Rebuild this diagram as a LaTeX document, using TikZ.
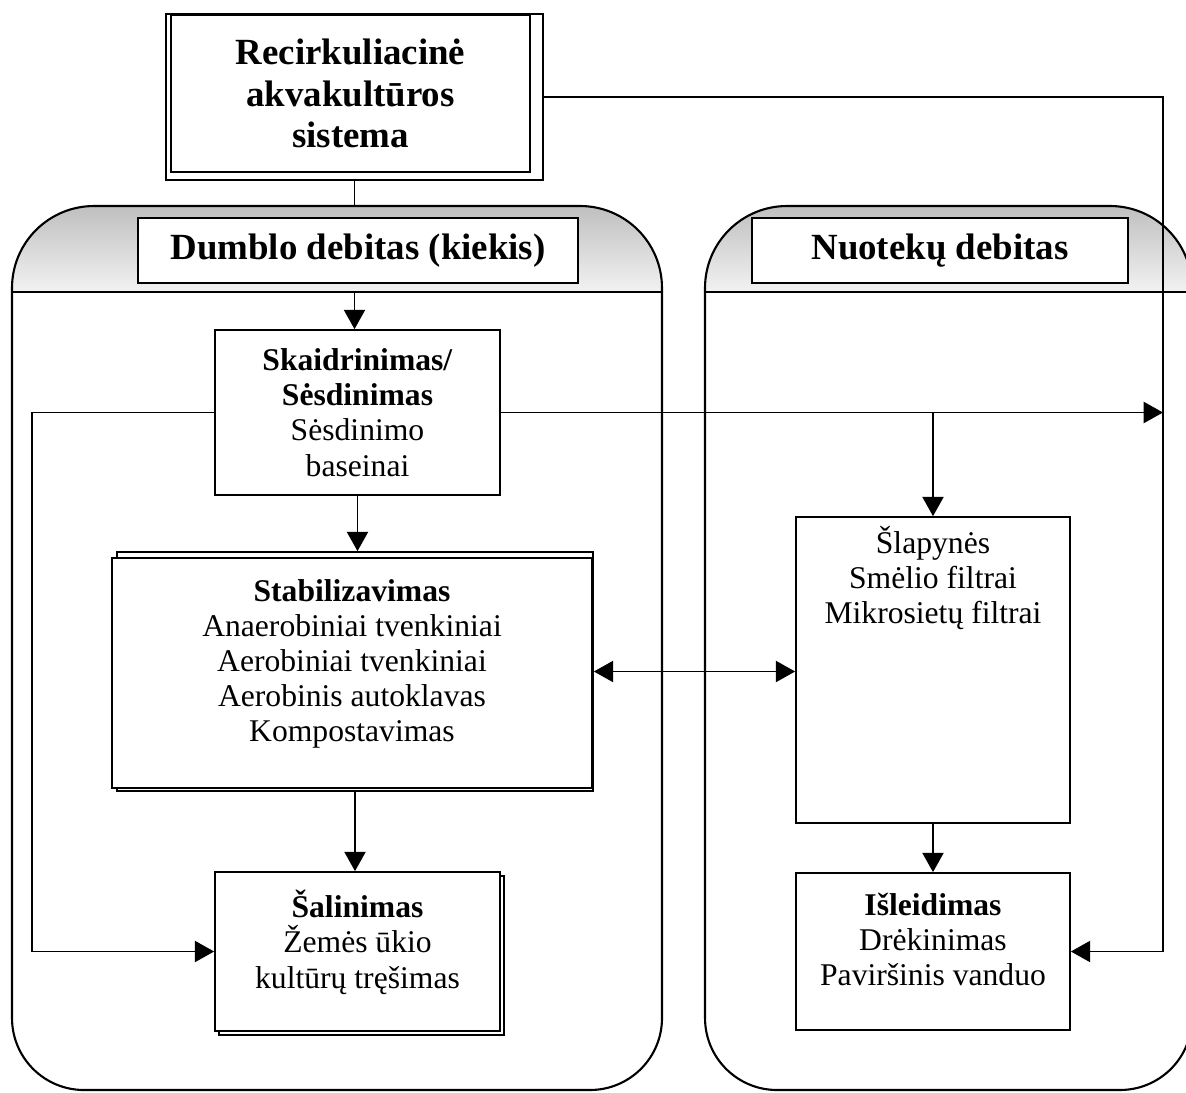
\documentclass[tikz,border=0pt]{standalone}
\usepackage{fontspec}
\setmainfont{Liberation Serif}
\usetikzlibrary{arrows.meta,calc}

\tikzset{
  box/.style={draw, line width=1pt, fill=white, align=center, inner sep=2pt,
    font=\fontsize{18}{20}\selectfont},
  headbox/.style={box, font=\fontsize{21}{23.5}\selectfont\bfseries},
  arr/.style={line width=1.1pt, -{Triangle[length=11pt,width=12pt]}},
  dblarr/.style={line width=1.1pt, {Triangle[length=11pt,width=12pt]}-{Triangle[length=11pt,width=12pt]}},
  panel/.style={line width=1.2pt},
}

\begin{document}
\begin{tikzpicture}[x=0.02cm, y=-0.02cm]
\useasboundingbox (0,0) rectangle (1186,1092);
\clip (0,0) rectangle (1186,1092);

% panels
\shade[top color=gray!50, bottom color=gray!10] (12,292) -- (12,288)
  arc[start angle=180, end angle=90, radius=1.64cm] -- (580,206)
  arc[start angle=90, end angle=0, radius=1.64cm] -- (662,292) -- cycle;
\draw[panel] (12,292) -- (12,288)
  arc[start angle=180, end angle=90, radius=1.64cm] -- (580,206)
  arc[start angle=90, end angle=0, radius=1.64cm] -- (662,1018)
  arc[start angle=0, end angle=-90, radius=1.44cm] -- (84,1090)
  arc[start angle=270, end angle=180, radius=1.44cm] -- cycle;
\draw[panel] (12,292) -- (662,292);

\shade[top color=gray!50, bottom color=gray!10] (705,292) -- (705,288)
  arc[start angle=180, end angle=90, radius=1.64cm] -- (1110,206)
  arc[start angle=90, end angle=0, radius=1.64cm] -- (1192,292) -- cycle;
\draw[panel] (705,292) -- (705,288)
  arc[start angle=180, end angle=90, radius=1.64cm] -- (1110,206)
  arc[start angle=90, end angle=0, radius=1.64cm] -- (1192,1018)
  arc[start angle=0, end angle=-90, radius=1.44cm] -- (777,1090)
  arc[start angle=270, end angle=180, radius=1.44cm] -- cycle;
\draw[panel] (705,292) -- (1192,292);

% boxes
\node[box, minimum width=7.54cm, minimum height=3.32cm] (topback) at (354.5,97) {};
\node[headbox, minimum width=7.18cm, minimum height=3.14cm] (top) at (350.5,93.5)
  {Recirkuliacinė\\akvakultūros\\sistema};
\node[headbox, minimum width=8.8cm, minimum height=1.3cm] (dumblo) at (358,250.5)
  {Dumblo debitas (kiekis)};
\node[headbox, minimum width=7.52cm, minimum height=1.3cm] (nuot) at (940,250.5)
  {Nuotekų debitas};

\node[box, minimum width=5.7cm, minimum height=3.3cm] (skaid) at (357.5,412.5)
  {\textbf{Skaidrinimas/}\\\textbf{Sėsdinimas}\\Sėsdinimo\\baseinai};
\node[box, minimum width=9.52cm, minimum height=4.78cm] (stabback) at (355,671.5) {};
\node[box, minimum width=9.6cm, minimum height=4.6cm] (stab) at (352,673)
  {\textbf{Stabilizavimas}\\Anaerobiniai tvenkiniai\\Aerobiniai tvenkiniai\\Aerobinis autoklavas\\Kompostavimas\\[-6pt]\mbox{}};
\node[box, minimum width=5.7cm, minimum height=3.18cm] (salinback) at (361.5,955.5) {};
\node[box, minimum width=5.7cm, minimum height=3.18cm] (salin) at (357.5,951.5)
  {\textbf{Šalinimas}\\Žemės ūkio\\kultūrų tręšimas\\[-6pt]\mbox{}};

\node[box, minimum width=5.48cm, minimum height=6.12cm] (filt) at (933,670)
  {\parbox[c][5.9cm][t]{5cm}{\centering\vspace{2pt}Šlapynės\\Smėlio filtrai\\Mikrosietų filtrai}};
\node[box, minimum width=5.48cm, minimum height=3.14cm] (isl) at (933,951.5)
  {\textbf{Išleidimas}\\Drėkinimas\\Paviršinis vanduo\\[-6pt]\mbox{}};

\coordinate (ptop) at (355,206);
\coordinate (psep) at (355,292);
\coordinate (lc) at (32,412.5);
\coordinate (rc) at (1163,412.5);
\coordinate (tr) at (1163,97);

% connectors
\draw[line width=1.1pt] (topback.south) -- (topback.south |- ptop);
\draw[arr] (topback.south |- psep) -- (topback.south |- skaid.north);
\draw[arr] (skaid.south) -- (skaid.south |- stabback.north);
\draw[arr] (stabback.south) -- (stabback.south |- salin.north);
\draw[arr] (skaid.west) -- (lc) |- (salin.west);
\draw[arr] (skaid.east) -- (rc);
\draw[arr] (skaid.east -| filt.north) -- (filt.north);
\draw[dblarr] (stabback.east) -- (stabback.east -| filt.west);
\draw[arr] (filt.south) -- (isl.north);
\draw[arr] (topback.east) -- (tr) |- (isl.east);

\end{tikzpicture}
\end{document}
